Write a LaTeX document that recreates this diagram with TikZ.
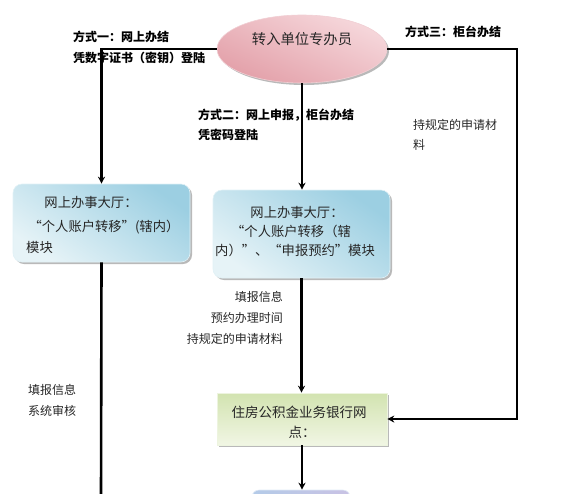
\documentclass[tikz,border=0pt]{standalone}
\usepackage{fontspec}
\setmainfont{Noto Sans CJK SC}
\usetikzlibrary{arrows.meta,shapes.geometric,shadows}
\definecolor{pinkA}{HTML}{F6D8DC}
\definecolor{pinkB}{HTML}{E3A0A9}
\definecolor{blueA}{HTML}{9CCFE2}
\definecolor{blueB}{HTML}{E6F3F7}
\definecolor{greenA}{HTML}{D2E3B0}
\definecolor{greenB}{HTML}{F1F6E4}
\definecolor{lavA}{HTML}{B4CBE8}
\definecolor{lavB}{HTML}{C9C2E4}
\begin{document}
\begin{tikzpicture}[x=1pt,y=-1pt,
  conn/.style={line width=2.6pt, draw=black},
  arr/.style={conn,-{Stealth[length=7pt,width=7pt]}},
  lbl/.style={font=\fontsize{12}{13}\selectfont\bfseries, inner sep=0pt, anchor=west},
  note/.style={font=\fontsize{12}{13}\selectfont, inner sep=0pt, text=black!85},
  boxtxt/.style={font=\fontsize{13.3}{14}\selectfont, inner sep=0pt, text=black!85},
  shad/.style={drop shadow={shadow xshift=2pt, shadow yshift=-2pt, fill=gray, opacity=0.55}},
  bluebox/.style={rounded corners=9pt, shad, draw=white!70!blueA, line width=0.6pt,
    top color=blueA, bottom color=blueB, shading angle=-35},
  greenbox/.style={shad, draw=white!60!greenA, line width=0.6pt,
    top color=greenA, bottom color=greenB},
  lavbox/.style={rounded corners=7pt, draw=white!60!lavA, line width=0.6pt,
    left color=lavA, right color=lavB}]
\useasboundingbox (0,0) rectangle (572,493);

% shapes
\node[ellipse, minimum width=170pt, minimum height=68pt, inner sep=0pt, shad,
  draw=white!50!pinkB, line width=0.6pt, top color=pinkA, bottom color=pinkB, shading angle=-25] (ell) at (302,49) {};
\node[font=\fontsize{14.3}{15}\selectfont, inner sep=0pt, text=black!85] (ellt) at (302,39) {转入单位专办员};

\node[bluebox, minimum width=177pt, minimum height=78pt] (lbox) at (101.5,223) {};
\node[bluebox, minimum width=177pt, minimum height=88pt] (mbox) at (301.5,234) {};
\node[greenbox, minimum width=170pt, minimum height=52pt] (gbox) at (302,419) {};
\node[lavbox, minimum width=98pt, minimum height=30pt] (bbox) at (301,505) {};

% connectors
\coordinate (rc) at (517,419);
\coordinate (lend) at (101,500);
\draw[arr] (ell.west) -| (lbox.north);
\draw[arr] (ell.south) -- (ell.south |- mbox.north);
\draw[arr] (ell.east) -| (rc) -- (gbox.east);
\draw[arr] (mbox.south) -- (mbox.south |- gbox.north);
\draw[conn] (lbox.south) -- (lend);
\draw[arr] (gbox.south) -- (gbox.south |- bbox.north);

% box texts
\node[boxtxt] (l1) at (91,202) {网上办事大厅：};
\node[boxtxt] (l2) at (104,227) {“个人账户转移”(辖内）};
\node[boxtxt, anchor=west] (l3) at (26,247) {模块};
\node[boxtxt] (m1) at (297,212) {网上办事大厅：};
\node[boxtxt] (m2) at (291,231) {“个人账户转移（辖};
\node[boxtxt] (m3) at (295,250) {内）”、“申报预约”模块};
\node[boxtxt, font=\fontsize{13.5}{14}\selectfont] (g1) at (299,412) {住房公积金业务银行网};
\node[boxtxt, font=\fontsize{13.5}{14}\selectfont] (g2) at (302,432) {点：};

% notes
\node[note, anchor=east] (n1) at (283,297) {填报信息};
\node[note, anchor=east] (n2) at (283,318) {预约办理时间};
\node[note, anchor=east] (n3) at (283,339) {持规定的申请材料};
\node[note] (n4) at (52,390) {填报信息};
\node[note] (n5) at (52,411) {系统审核};
\node[note, anchor=west] (n6) at (413,125) {持规定的申请材};
\node[note, anchor=west] (n7) at (413,145) {料};

% labels
\node[lbl] (a1) at (73,37) {方式一：网上办结};
\node[lbl] (a2) at (73,58) {凭数字证书（密钥）登陆};
\node[lbl] (b1) at (198,115) {方式二：网上申报，柜台办结};
\node[lbl] (b2) at (198,135) {凭密码登陆};
\node[lbl] (c1) at (405,32) {方式三：柜台办结};
\end{tikzpicture}
\end{document}
